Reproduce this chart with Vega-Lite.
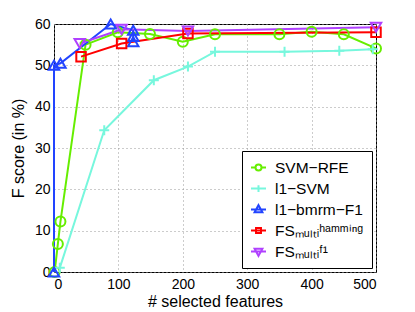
{
  "$schema": "https://vega.github.io/schema/vega-lite/v6.json",
  "width": 322,
  "height": 248,
  "autosize": "none",
  "padding": {"left": 54, "top": 24, "right": 39, "bottom": 40},
  "background": "white",
  "config": {
    "view": {"stroke": "black", "strokeWidth": 1},
    "font": "Liberation Sans",
    "axis": {
      "labelFont": "Liberation Sans", "labelFontSize": 14, "labelColor": "black",
      "titleFont": "Liberation Sans", "titleFontSize": 16, "titleFontWeight": "normal", "titleColor": "black",
      "gridColor": "#999999", "gridDash": [1, 3], "gridWidth": 1,
      "domain": false, "ticks": false
    }
  },
  "data": {
    "values": [
      {"s": "SVM-RFE", "x": 1, "y": 0, "i": 0},
      {"s": "SVM-RFE", "x": 6, "y": 6.8, "i": 1},
      {"s": "SVM-RFE", "x": 10, "y": 12.2, "i": 2},
      {"s": "SVM-RFE", "x": 49, "y": 55, "i": 3},
      {"s": "SVM-RFE", "x": 99, "y": 58, "i": 4},
      {"s": "SVM-RFE", "x": 149, "y": 57.6, "i": 5},
      {"s": "SVM-RFE", "x": 200, "y": 55.7, "i": 6},
      {"s": "SVM-RFE", "x": 250, "y": 57.5, "i": 7},
      {"s": "SVM-RFE", "x": 350, "y": 57.5, "i": 8},
      {"s": "SVM-RFE", "x": 400, "y": 58.1, "i": 9},
      {"s": "SVM-RFE", "x": 450, "y": 57.5, "i": 10},
      {"s": "SVM-RFE", "x": 500, "y": 54.1, "i": 11},
      {"s": "l1-SVM", "x": 9, "y": 1, "i": 0},
      {"s": "l1-SVM", "x": 78, "y": 34.3, "i": 1},
      {"s": "l1-SVM", "x": 155, "y": 46.4, "i": 2},
      {"s": "l1-SVM", "x": 208, "y": 49.7, "i": 3},
      {"s": "l1-SVM", "x": 250, "y": 53.3, "i": 4},
      {"s": "l1-SVM", "x": 358, "y": 53.3, "i": 5},
      {"s": "l1-SVM", "x": 443, "y": 53.5, "i": 6},
      {"s": "l1-SVM", "x": 495, "y": 53.9, "i": 7},
      {"s": "l1-bmrm-F1", "x": 0, "y": 0, "i": 0},
      {"s": "l1-bmrm-F1", "x": 0, "y": 50, "i": 1},
      {"s": "l1-bmrm-F1", "x": 10, "y": 50.5, "i": 2},
      {"s": "l1-bmrm-F1", "x": 88, "y": 60, "i": 3},
      {"s": "l1-bmrm-F1", "x": 123, "y": 58.5, "i": 4},
      {"s": "l1-bmrm-F1", "x": 123, "y": 57, "i": 5},
      {"s": "l1-bmrm-F1", "x": 123, "y": 55.7, "i": 6},
      {"s": "FS_hamming", "x": 42, "y": 52.1, "i": 0},
      {"s": "FS_hamming", "x": 105, "y": 55.3, "i": 1},
      {"s": "FS_hamming", "x": 208, "y": 57.7, "i": 2},
      {"s": "FS_hamming", "x": 500, "y": 58, "i": 3},
      {"s": "FS_F1", "x": 40, "y": 55.3, "i": 0},
      {"s": "FS_F1", "x": 105, "y": 58.7, "i": 1},
      {"s": "FS_F1", "x": 208, "y": 58.3, "i": 2},
      {"s": "FS_F1", "x": 500, "y": 59.2, "i": 3}
    ]
  },
  "encoding": {
    "x": {"field": "x", "type": "quantitative", "scale": {"domain": [0, 500], "nice": false},
      "axis": {"values": [0, 100, 200, 300, 400, 500], "title": "# selected features", "titlePadding": 2, "labelPadding": 5}},
    "y": {"field": "y", "type": "quantitative", "scale": {"domain": [0, 60], "nice": false},
      "axis": {"values": [0, 10, 20, 30, 40, 50, 60], "title": "F score (in %)", "titlePadding": 8, "labelPadding": 4}},
    "color": {"field": "s", "type": "nominal",
      "scale": {"domain": ["SVM-RFE", "l1-SVM", "l1-bmrm-F1", "FS_hamming", "FS_F1"],
                "range": ["#66ee00", "#77f7dd", "#2244ff", "#ff0000", "#b040ff"]},
      "legend": {
        "title": null, "orient": "bottom-right", "offset": 4,
        "strokeColor": "black", "fillColor": "white", "padding": 8,
        "labelFont": "Liberation Sans", "labelFontSize": 15.5, "labelColor": "black",
        "symbolSize": 225, "symbolStrokeWidth": 2, "rowPadding": 4, "labelOffset": 8,
        "symbolFillColor": "white",
        "labelExpr": "datum.value === 'FS_hamming' ? 'FSₘᵤₗₜᵢʰᵃᵐᵐⁱⁿᵍ' : datum.value === 'FS_F1' ? 'FSₘᵤₗₜᵢᶠ¹' : replace(datum.value, /-/g, '−')",
        "encode": {
          "symbols": {
            "update": {
              "shape": {"signal": "datum.value === 'SVM-RFE' ? 'M-1,0H-0.4M0.4,0H1M-0.4,0A0.4,0.4 0 1 1 0.4,0A0.4,0.4 0 1 1 -0.4,0' : datum.value === 'l1-SVM' ? 'M-1,0H1M0,-0.45V0.45' : datum.value === 'l1-bmrm-F1' ? 'M-1,0H1M0,-0.58L0.52,0.36L-0.52,0.36Z' : datum.value === 'FS_hamming' ? 'M-1,0H1M-0.33,-0.33H0.33V0.33H-0.33Z' : 'M-1,0H1M0,0.58L0.52,-0.36L-0.52,-0.36Z'"},
              "fillOpacity": {"value": 0},
              "strokeWidth": {"value": 2}
            }
          }
        }
      }
    }
  },
  "layer": [
    {
      "mark": {"type": "line", "strokeWidth": 2, "clip": false},
      "encoding": {"order": {"field": "i", "type": "quantitative"}}
    },
    {
      "transform": [{"filter": {"field": "s", "equal": "SVM-RFE"}}],
      "mark": {"type": "point", "shape": "circle", "filled": false, "strokeWidth": 2, "size": 100, "opacity": 1, "clip": false},
      "encoding": {}
    },
    {
      "transform": [{"filter": {"field": "s", "equal": "l1-SVM"}}],
      "mark": {"type": "point", "shape": "M-1,0H1M0,-1V1", "filled": false, "strokeWidth": 2, "size": 100, "opacity": 1, "clip": false},
      "encoding": {}
    },
    {
      "transform": [{"filter": {"field": "s", "equal": "l1-bmrm-F1"}}],
      "mark": {"type": "point", "shape": "triangle-up", "filled": false, "strokeWidth": 2, "size": 110, "opacity": 1, "clip": false},
      "encoding": {}
    },
    {
      "transform": [{"filter": {"field": "s", "equal": "FS_hamming"}}],
      "mark": {"type": "point", "shape": "square", "filled": false, "strokeWidth": 2, "size": 90, "opacity": 1, "clip": false},
      "encoding": {}
    },
    {
      "transform": [{"filter": {"field": "s", "equal": "FS_F1"}}],
      "mark": {"type": "point", "shape": "triangle-down", "filled": false, "strokeWidth": 2, "size": 110, "opacity": 1, "clip": false},
      "encoding": {}
    }
  ]
}
